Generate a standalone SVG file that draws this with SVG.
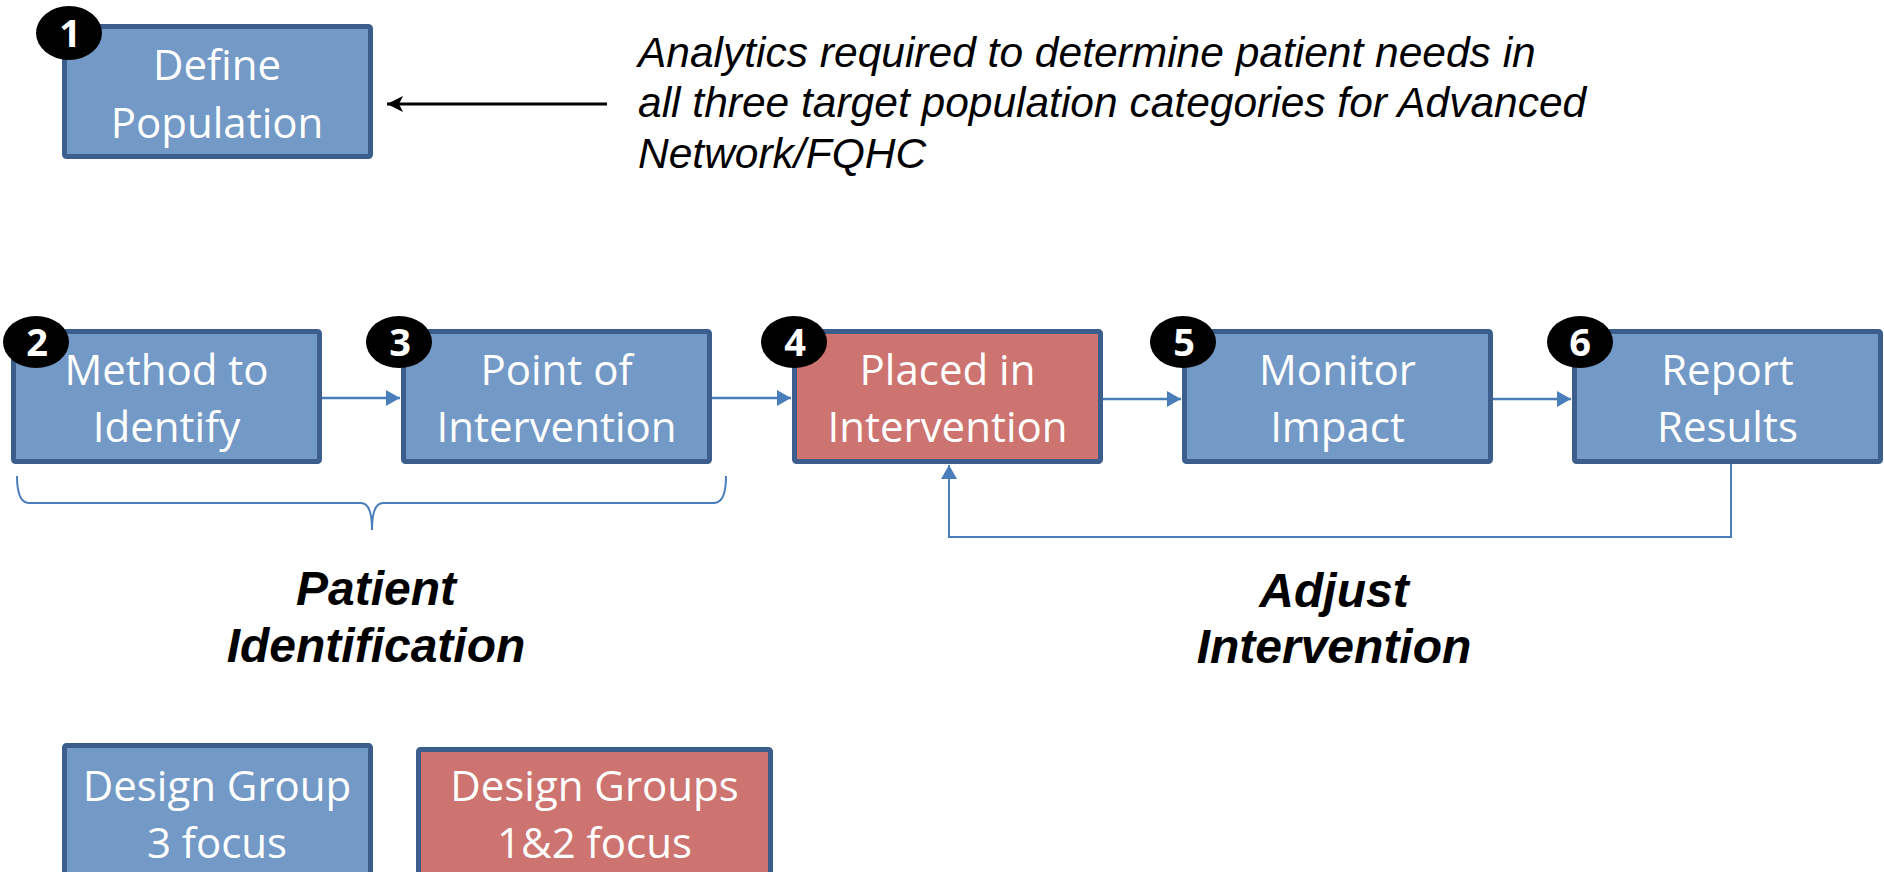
<svg xmlns="http://www.w3.org/2000/svg" width="1884" height="872" viewBox="0 0 1884 872">
<style>
.box{stroke:#3B5E8C;stroke-width:5}
.blue{fill:#7399C6}
.red{fill:#CD7370}
.lbl{font-family:"Open Sans","Noto Sans",sans-serif;font-size:42px;fill:#ffffff;text-anchor:middle}
.badge{fill:#000000}
.num{font-family:"Open Sans","Noto Sans",sans-serif;font-size:38px;font-weight:bold;fill:#ffffff;text-anchor:middle}
.conn{fill:none;stroke:#4A7EBB;stroke-width:2.5}
.note{font-family:"Liberation Sans",Arial,sans-serif;font-size:42.5px;font-style:italic;fill:#000000}
.phase{font-family:"Liberation Sans",Arial,sans-serif;font-size:48px;font-style:italic;font-weight:bold;fill:#000000;text-anchor:middle}
</style>
<defs>
<marker id="ah" markerUnits="userSpaceOnUse" markerWidth="16" markerHeight="16" refX="14" refY="8" orient="auto">
<path d="M0,0 L14,8 L0,16 Z" fill="#4A7EBB"/>
</marker>
<marker id="ahk" markerUnits="userSpaceOnUse" markerWidth="18" markerHeight="18" refX="16" refY="9" orient="auto">
<path d="M0,1 L16,9 L0,17 L4,9 Z" fill="#000000"/>
</marker>
</defs>
<rect width="1884" height="872" fill="#ffffff"/>

<g id="connectors">
<line class="conn" x1="322" y1="398" x2="400" y2="398" marker-end="url(#ah)"/>
<line class="conn" x1="711" y1="398" x2="791" y2="398" marker-end="url(#ah)"/>
<line class="conn" x1="1102" y1="399" x2="1181" y2="399" marker-end="url(#ah)"/>
<line class="conn" x1="1492" y1="399" x2="1571" y2="399" marker-end="url(#ah)"/>
<path class="conn" style="stroke-width:2" d="M1731,464 V537 H949 V465" marker-end="url(#ah)"/>
<line x1="607" y1="104" x2="387" y2="104" stroke="#000000" stroke-width="3" marker-end="url(#ahk)"/>
<path class="conn" style="stroke-width:2" d="M17,476 Q17,503 29,503 H361 Q372,503 372,530 Q372,503 383,503 H714 Q726,503 726,476"/>
</g>

<g id="node1">
<rect class="box blue" x="64.5" y="26.5" width="306" height="130" rx="2"/>
<text class="lbl" x="217" y="80">Define</text>
<text class="lbl" x="217" y="138">Population</text>
<ellipse class="badge" cx="69" cy="33" rx="33" ry="27"/>
<text class="num" x="70" y="47">1</text>
</g>

<g id="note">
<text class="note" x="638" y="67">Analytics required to determine patient needs in</text>
<text class="note" x="638" y="117">all three target population categories for Advanced</text>
<text class="note" x="638" y="168">Network/FQHC</text>
</g>

<g id="node2">
<rect class="box blue" x="13.5" y="331.5" width="306" height="130" rx="2"/>
<text class="lbl" x="166.5" y="385">Method to</text>
<text class="lbl" x="166.5" y="442">Identify</text>
<ellipse class="badge" cx="36" cy="342" rx="33" ry="26"/>
<text class="num" x="37" y="356">2</text>
</g>

<g id="node3">
<rect class="box blue" x="403.5" y="331.5" width="306" height="130" rx="2"/>
<text class="lbl" x="556.5" y="385">Point of</text>
<text class="lbl" x="556.5" y="442">Intervention</text>
<ellipse class="badge" cx="399" cy="342" rx="33" ry="26"/>
<text class="num" x="400" y="356">3</text>
</g>

<g id="node4">
<rect class="box red" x="794.5" y="331.5" width="306" height="130" rx="2"/>
<text class="lbl" x="947.5" y="385">Placed in</text>
<text class="lbl" x="947.5" y="442">Intervention</text>
<ellipse class="badge" cx="794" cy="342" rx="33" ry="26"/>
<text class="num" x="795" y="356">4</text>
</g>

<g id="node5">
<rect class="box blue" x="1184.5" y="331.5" width="306" height="130" rx="2"/>
<text class="lbl" x="1337.5" y="385">Monitor</text>
<text class="lbl" x="1337.5" y="442">Impact</text>
<ellipse class="badge" cx="1183" cy="342" rx="33" ry="26"/>
<text class="num" x="1184" y="356">5</text>
</g>

<g id="node6">
<rect class="box blue" x="1574.5" y="331.5" width="306" height="130" rx="2"/>
<text class="lbl" x="1727.5" y="385">Report</text>
<text class="lbl" x="1727.5" y="442">Results</text>
<ellipse class="badge" cx="1580" cy="342" rx="33" ry="26"/>
<text class="num" x="1580" y="356">6</text>
</g>

<g id="label-patient-identification">
<text class="phase" x="376" y="605">Patient</text>
<text class="phase" x="376" y="662">Identification</text>
</g>

<g id="label-adjust-intervention">
<text class="phase" x="1334" y="607">Adjust</text>
<text class="phase" x="1334" y="663">Intervention</text>
</g>

<g id="legend-blue">
<rect class="box blue" x="64.5" y="745.5" width="306" height="140" rx="2"/>
<text class="lbl" x="217" y="801">Design Group</text>
<text class="lbl" x="217" y="858">3 focus</text>
</g>

<g id="legend-red">
<rect class="box red" x="418.5" y="749.5" width="352" height="140" rx="2"/>
<text class="lbl" x="594.5" y="801">Design Groups</text>
<text class="lbl" x="594.5" y="858">1&amp;2 focus</text>
</g>
</svg>
